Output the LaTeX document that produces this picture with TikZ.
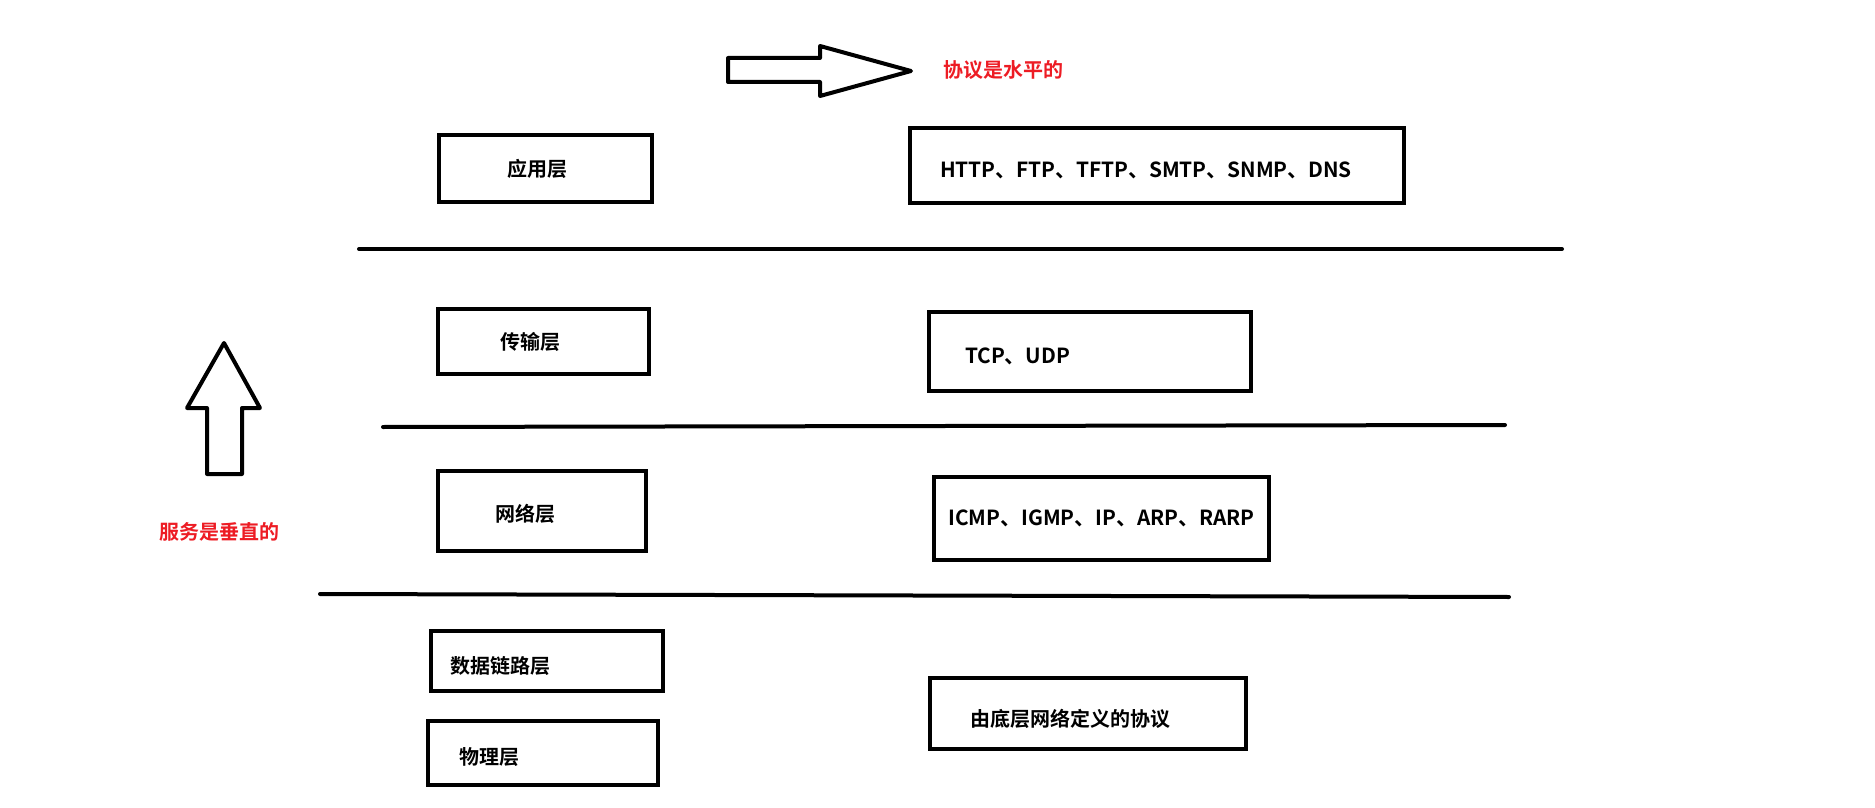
\documentclass[tikz,border=0pt]{standalone}
\usepackage{fontspec}
\newfontfamily\cjkbold{Noto Sans CJK SC Bold}
\usepackage{tikz}
\definecolor{paintred}{RGB}{237,28,36}

\begin{document}
\begin{tikzpicture}[x=0.5pt, y=-0.5pt,
  layer/.style={draw, line width=2pt, font=\cjkbold\fontsize{10}{12}\selectfont, inner xsep=0pt, inner ysep=0pt},
  latin/.style={font=\cjkbold\fontsize{10.4}{12}\selectfont},
  leftbox/.style n args={3}{minimum width=#1, minimum height=#2, text width=#3, align=left},
  note/.style={text=paintred, font=\cjkbold\fontsize{10}{12}\selectfont}]
\useasboundingbox (0,0) rectangle (1875,808);

% layers on the left, protocols on the right
\node[layer, leftbox={106.5pt}{33.5pt}{38.5pt}] (AppLayer) at (545.5,168.5) {应用层};
\node[layer, latin, leftbox={247pt}{37.5pt}{217pt}, text height=12.4pt] (HttpBox) at (1157,165.5) {HTTP、FTP、TFTP、SMTP、SNMP、DNS};
\node[layer, leftbox={105.5pt}{32.5pt}{43.5pt}] (TransLayer) at (543.5,341.5) {传输层};
\node[layer, latin, leftbox={161pt}{39.5pt}{125pt}, text height=12.4pt] (TcpBox) at (1090,351.5) {TCP、UDP};
\node[layer, leftbox={104pt}{40pt}{47pt}, text height=11.2pt] (NetLayer) at (542,511) {网络层};
\node[layer, latin, minimum width=167.5pt, minimum height=41.5pt] (IcmpBox) at (1101.5,518.5) {ICMP、IGMP、IP、ARP、RARP};
\node[layer, leftbox={116pt}{30pt}{97pt}, text height=13.6pt] (LinkLayer) at (547,661) {数据链路层};
\node[layer, leftbox={115pt}{32pt}{84pt}, text height=12.4pt] (PhysLayer) at (543,753) {物理层};
\node[layer, leftbox={158pt}{35.5pt}{118pt}, text height=13.6pt] (LowBox) at (1088,713.5) {由底层网络定义的协议};

% separators
\draw[line width=2pt, line cap=round] (359,249) -- (1562,249);
\draw[line width=2pt, line cap=round] (383,427) -- (1505,425);
\draw[line width=2pt, line cap=round] (320,594) -- (1509,597);

% block arrows
\draw[line width=2pt, line join=round] (728,58) -- (820,58) -- (820,46) -- (911,71) -- (820,96) -- (820,82) -- (728,82) -- cycle;
\node[note] (Horizontal) at (1003,70) {协议是水平的};
\draw[line width=2pt, line join=round] (224,343) -- (260,408) -- (242,408) -- (242,474) -- (207,474) -- (207,408) -- (187,408) -- cycle;
\node[note] (Vertical) at (219,532) {服务是垂直的};
\end{tikzpicture}
\end{document}
